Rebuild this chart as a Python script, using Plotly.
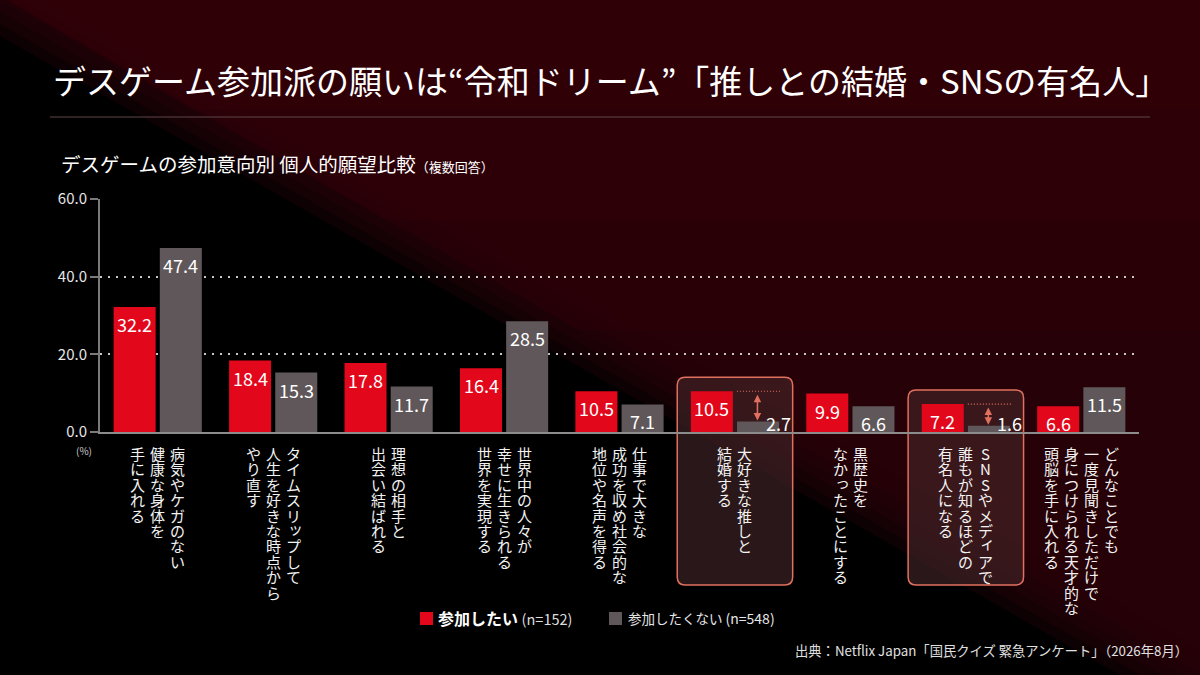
import plotly.graph_objects as go

# data
categories = [
    "病気やケガのない健康な身体を手に入れる",
    "タイムスリップして人生を好きな時点からやり直す",
    "理想の相手と出会い結ばれる",
    "世界中の人々が幸せに生きられる世界を実現する",
    "仕事で大きな成功を収め社会的な地位や名声を得る",
    "大好きな推しと結婚する",
    "黒歴史をなかったことにする",
    "SNSやメディアで誰もが知るほどの有名人になる",
    "どんなことでも一度見聞きしただけで身につけられる天才的な頭脳を手に入れる",
]
label_lines = [
    ["病気やケガのない", "健康な身体を", "手に入れる"],
    ["タイムスリップして", "人生を好きな時点から", "やり直す"],
    ["理想の相手と", "出会い結ばれる"],
    ["世界中の人々が", "幸せに生きられる", "世界を実現する"],
    ["仕事で大きな", "成功を収め社会的な", "地位や名声を得る"],
    ["大好きな推しと", "結婚する"],
    ["黒歴史を", "なかったことにする"],
    ["SNSやメディアで", "誰もが知るほどの", "有名人になる"],
    ["どんなことでも", "一度見聞きしただけで", "身につけられる天才的な", "頭脳を手に入れる"],
]
want = [32.2, 18.4, 17.8, 16.4, 10.5, 10.5, 9.9, 7.2, 6.6]
not_want = [47.4, 15.3, 11.7, 28.5, 7.1, 2.7, 6.6, 1.6, 11.5]
y_ticks = [0, 20, 40, 60]
highlight = [5, 7]

title = "デスゲーム参加派の願いは“令和ドリーム”「推しとの結婚・SNSの有名人」"
subtitle = "デスゲームの参加意向別 個人的願望比較"
subtitle_note = "（複数回答）"
name_want, n_want = "参加したい", "(n=152)"
name_not, n_not = "参加したくない", "(n=548)"
source = "出典：Netflix Japan「国民クイズ 緊急アンケート」（2026年8月）"

FONT = "Noto Sans CJK JP"
RED = "#e3071b"
GRAY = "#5f5759"
SALMON = "#e2705f"

# plot area in pixels
L, R, T, B = 100, 1139, 199, 432
W, H = R - L, B - T
CW = W / len(categories)   # pixel width of one category
UNIT = H / y_ticks[-1]     # pixels per percent


def px(x):
    return (x - L) / W


def py(y):
    return (B - y) / H


def path(pts):
    return "M " + " L ".join(f"{px(x):.5f},{py(y):.5f}" for x, y in pts) + " Z"


def rounded(x0, y0, x1, y1, r):
    p = lambda x, y: f"{px(x):.5f},{py(y):.5f}"
    return (f"M {p(x0 + r, y0)} L {p(x1 - r, y0)} Q {p(x1, y0)} {p(x1, y0 + r)} "
            f"L {p(x1, y1 - r)} Q {p(x1, y1)} {p(x1 - r, y1)} "
            f"L {p(x0 + r, y1)} Q {p(x0, y1)} {p(x0, y1 - r)} "
            f"L {p(x0, y0 + r)} Q {p(x0, y0)} {p(x0 + r, y0)} Z")


fig = go.Figure()
fig.add_trace(go.Bar(x=categories, y=want, name=name_want, marker_color=RED,
                     marker_line_width=0, hoverinfo="skip"))
fig.add_trace(go.Bar(x=categories, y=not_want, name=name_not, marker_color=GRAY,
                     marker_line_width=0, hoverinfo="skip"))

shapes = []
# diagonal background: dark red above the corner-to-corner line, black below
slope = 685 / 1200
for d in (-36, -24, -12, 0, 12, 24, 36):
    shapes.append(dict(type="path", xref="paper", yref="paper", layer="below",
                       path=path([(-10, -60), (-10, d - 10 * slope), (1210, 685 + d + 10 * slope), (1210, -60)]),
                       fillcolor="rgba(42,3,9,0.3)", line_width=0))
for yb in (110, 220, 330):
    shapes.append(dict(type="path", xref="paper", yref="paper", layer="below",
                       path=path([(-10, -10), (1210, -10), (1210, yb), (yb / slope, yb)]),
                       fillcolor="rgba(70,4,12,0.12)", line_width=0))
# separator under title
shapes.append(dict(type="line", xref="paper", yref="paper", x0=px(50), x1=px(1150),
                   y0=py(117), y1=py(117), line=dict(color="#5e4649", width=1)))

# highlight boxes, dotted reference lines
for i in highlight:
    x0 = L + i * CW
    top = B - want[i] * UNIT - 14
    shapes.append(dict(type="path", xref="paper", yref="paper", layer="below",
                       path=rounded(x0, top, x0 + CW, 585, 8),
                       fillcolor="rgba(70,38,42,0.6)", line=dict(color=SALMON, width=1.5)))
    shapes.append(dict(type="line", xref="x", yref="y", x0=i + 2 / CW, x1=i + 45 / CW,
                       y0=want[i], y1=want[i], line=dict(color=SALMON, width=1.2, dash="1px,2px")))

# legend markers
shapes.append(dict(type="rect", xref="paper", yref="paper", x0=px(420), x1=px(433),
                   y0=py(625), y1=py(612), fillcolor=RED, line_width=0))
shapes.append(dict(type="rect", xref="paper", yref="paper", x0=px(609), x1=px(622),
                   y0=py(625), y1=py(612), fillcolor=GRAY, line_width=0))

ann = []
ann.append(dict(text=title, xref="paper", yref="paper", x=px(51), y=py(80),
                xanchor="left", yanchor="middle", showarrow=False,
                font=dict(size=33, color="white")))
ann.append(dict(text=f"{subtitle}<span style='font-size:13px'>{subtitle_note}</span>",
                xref="paper", yref="paper", x=px(59), y=py(163),
                xanchor="left", yanchor="middle", showarrow=False,
                font=dict(size=19.5, color="white")))
ann.append(dict(text="(%)", xref="paper", yref="paper", x=px(84), y=py(450),
                xanchor="center", yanchor="middle", showarrow=False,
                font=dict(size=10, color="#cccccc")))

# value labels
for vals, off in ((want, -23), (not_want, 23)):
    for i, v in enumerate(vals):
        if v >= 4:
            ann.append(dict(text=f"{v:.1f}", xref="x", yref="y", x=i + off / CW, y=v,
                            yshift=-17, yanchor="middle", showarrow=False,
                            font=dict(size=18, color="white")))
        else:
            ann.append(dict(text=f"{v:.1f}", xref="x", yref="y", x=i + (off + 21) / CW, y=0,
                            yshift=9, yanchor="middle", showarrow=False,
                            font=dict(size=18, color="white")))

# double arrows between the bars in highlighted groups
for i in highlight:
    xa = i + 22.5 / CW
    ann.append(dict(text="", xref="x", yref="y", axref="x", ayref="y",
                    x=xa, y=not_want[i], ax=xa, ay=want[i], showarrow=True,
                    arrowside="end+start", arrowhead=2, arrowsize=1, arrowwidth=1.5,
                    arrowcolor=SALMON, standoff=1, startstandoff=2))

# vertical (tategaki) category labels, one annotation per character
small = set("ぁぃぅぇぉっゃゅょァィゥェォッャュョ")
for i, cols in enumerate(label_lines):
    n = len(cols)
    for j, col in enumerate(cols):
        xoff = ((n - 1) / 2 - j) * 20
        for k, ch in enumerate(col):
            sx, sy = (2, 3) if ch in small else (0, 0)
            ann.append(dict(text=ch, xref="x", yref="paper", x=i + (xoff + sx) / CW,
                            y=py(441), xanchor="center", yanchor="top",
                            yshift=-k * 15.4 + sy, showarrow=False,
                            font=dict(size=15, color="#f2f2f2")))

# legend texts
ann.append(dict(text=f"<b>{name_want}</b> <span style='font-size:14.5px;color:#dddddd'>{n_want}</span>",
                xref="paper", yref="paper", x=px(436), y=py(618), xanchor="left", yanchor="middle",
                showarrow=False, font=dict(size=16, color="white")))
ann.append(dict(text=f"{name_not} <span style='font-size:14px'>{n_not}</span>",
                xref="paper", yref="paper", x=px(626), y=py(618), xanchor="left", yanchor="middle",
                showarrow=False, font=dict(size=13.5, color="#e6e6e6")))
ann.append(dict(text=source, xref="paper", yref="paper", x=px(1190), y=py(650),
                xanchor="right", yanchor="middle", showarrow=False,
                font=dict(size=13.3, color="#e0e0e0")))

fig.update_layout(
    width=1200, height=675,
    margin=dict(l=L, r=1200 - R, t=T, b=675 - B, pad=0),
    paper_bgcolor="#000000", plot_bgcolor="rgba(0,0,0,0)",
    font=dict(family=FONT, color="white"),
    barmode="group", bargap=0.2, bargroupgap=0.09,
    showlegend=False,
    shapes=shapes, annotations=ann,
)
fig.update_xaxes(range=[-0.5, len(categories) - 0.5], showticklabels=False, ticks="",
                 showgrid=False, zeroline=False, showline=True, linecolor="#8c8c8c", linewidth=2)
fig.update_yaxes(range=[y_ticks[0], y_ticks[-1]], tickvals=y_ticks, tickformat=".1f",
                 tickfont=dict(size=15, color="#e6e6e6"), ticks="outside", ticklen=8,
                 tickcolor="#7a7a7a", tickwidth=1.5, showline=True, linecolor="#7a7a7a",
                 linewidth=2, showgrid=True, gridcolor="#c8c8c8", griddash="1.5px,6.5px",
                 gridwidth=1.5, zeroline=False)

fig.write_html("out.html", config={"displayModeBar": False},
               post_script="document.body.style.margin='0';document.body.style.overflow='hidden';")
